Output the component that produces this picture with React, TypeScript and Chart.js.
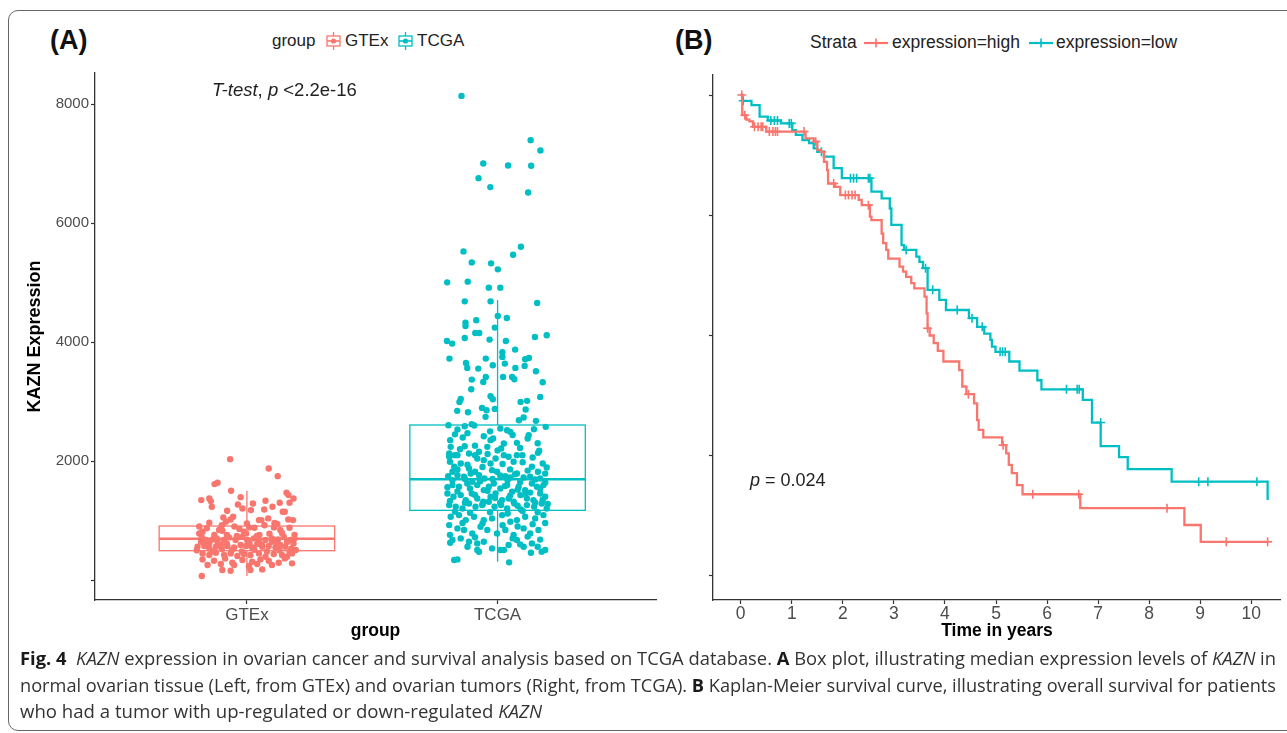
import React, { useEffect, useRef } from 'react';
import { Chart, registerables } from 'chart.js';
Chart.register(...registerables);

const FONT = "'Liberation Sans', Arial, Helvetica, sans-serif";

// ---------- Panel A: box plot ----------
const groups = ['GTEx', 'TCGA'];
const groupColors = ['#F8766D', '#00BFC4'];
const boxQ1 = [493, 1172];
const boxMedian = [695, 1694];
const boxQ3 = [908, 2607];
const whiskerLow = [67, 308];
const whiskerHigh = [1497, 4710];
const yTicksA = [0, 2000, 4000, 6000, 8000];
const yTickLabelsA = ['', '2000', '4000', '6000', '8000'];

// [jitter, value]
const gtexPoints: [number, number][] = [
  [-0.067, 2033], [0.087, 1876], [0.123, 1747], [-0.129, 1613], [-0.117, 1635], [-0.063, 1501], [-0.182, 1344],
  [-0.150, 1372], [-0.144, 1327], [-0.140, 1232], [-0.025, 1394], [-0.036, 1271], [-0.018, 1204], [0.024, 1288],
  [0.074, 1333], [0.102, 1232], [0.131, 1299], [0.158, 1467], [0.166, 1428], [0.170, 1299], [0.186, 1372],
  [-0.079, 1165], [0.016, 1176], [0.069, 1187], [0.143, 1148], [0.151, 1148], [-0.094, 1053], [-0.055, 1064],
  [0.048, 1008], [0.058, 1008], [0.085, 1036], [-0.150, 963], [-0.084, 980], [-0.065, 1019], [0.165, 1019],
  [0.184, 1008], [0.121, 941], [0.009, 885], [0.108, 885], [0.133, 840], [-0.177, 812], [-0.190, 784],
  [-0.111, 840], [-0.098, 829], [-0.012, 812], [-0.003, 784],
  [-0.183, 644], [-0.164, 672], [-0.137, 683], [-0.117, 644], [-0.091, 672], [-0.071, 717], [-0.045, 672],
  [-0.018, 728], [0.001, 672], [0.028, 700], [0.048, 644], [0.074, 672], [0.100, 644], [0.124, 683],
  [0.147, 728], [0.173, 672], [0.186, 616],
  [-0.197, 560], [-0.170, 571], [-0.150, 532], [-0.124, 560], [-0.104, 588], [-0.078, 571], [-0.051, 549],
  [-0.025, 588], [-0.003, 571], [0.021, 549], [0.041, 605], [0.061, 560], [0.087, 571], [0.114, 549],
  [0.133, 588], [0.153, 560], [0.177, 532], [0.195, 504],
  [-0.177, 448], [-0.150, 420], [-0.124, 459], [-0.091, 420], [-0.065, 448], [-0.038, 403], [-0.012, 437],
  [0.014, 420], [0.048, 448], [0.074, 392], [0.107, 437], [0.140, 420], [0.160, 392], [0.180, 448],
  [-0.177, 347], [-0.131, 325], [-0.087, 364], [-0.058, 291], [-0.018, 336], [0.021, 308], [0.054, 347],
  [0.087, 325], [0.127, 291], [0.151, 364],
  [-0.157, 252], [-0.104, 269], [-0.051, 252], [0.008, 235], [0.041, 269], [0.100, 252], [-0.098, 168],
  [-0.065, 157], [0.014, 168], [0.061, 179], [0.180, 280], [-0.180, 67],
  [-0.19, 900], [-0.16, 870], [-0.13, 760], [-0.10, 920], [-0.08, 760], [-0.05, 900], [-0.03, 860], [0.00, 950],
  [0.03, 880], [0.05, 760], [0.07, 920], [0.09, 780], [0.11, 960], [0.14, 790], [0.17, 880], [0.19, 760],
  [-0.18, 720], [-0.15, 620], [-0.12, 700], [-0.08, 610], [-0.04, 740], [0.01, 620], [0.04, 740], [0.06, 590],
  [0.10, 700], [0.12, 610], [0.16, 640], [0.19, 700], [-0.20, 500], [-0.14, 480], [-0.10, 520], [-0.06, 500],
  [-0.02, 480], [0.03, 510], [0.08, 480], [0.13, 500], [0.17, 470],
];

const tcgaPoints: [number, number][] = [
  [-0.144, 8142], [0.132, 7398], [0.171, 7224], [-0.057, 7006], [0.042, 6972], [0.134, 6966], [-0.076, 6759],
  [-0.029, 6608], [0.122, 6518], [0.093, 5606], [-0.136, 5527], [0.062, 5471], [-0.103, 5342], [-0.026, 5326],
  [0.001, 5225], [-0.201, 5006], [-0.119, 5018], [-0.035, 4917], [0.011, 4917], [-0.131, 4687], [-0.028, 4687],
  [0.158, 4659], [0.001, 4441], [0.037, 4407], [-0.085, 4368], [-0.128, 4329], [-0.128, 4273], [-0.011, 4245],
  [-0.202, 4021], [-0.181, 3976], [-0.131, 4071], [-0.089, 4155], [-0.073, 4155], [-0.032, 4043], [0.033, 4021],
  [0.149, 4088], [0.196, 4116], [-0.192, 3724], [-0.126, 3651], [-0.121, 3567], [-0.077, 3556], [-0.047, 3724],
  [-0.019, 3612], [0.019, 3830], [0.019, 3752], [0.029, 3640], [0.070, 3875], [0.071, 3567], [0.108, 3601],
  [0.110, 3713], [0.125, 3735], [0.153, 3511], [-0.103, 3371], [-0.057, 3332], [-0.047, 3416], [0.022, 3416],
  [0.058, 3416], [0.067, 3377], [0.180, 3326], [-0.105, 3209], [-0.147, 3046], [-0.152, 2996], [-0.028, 3091],
  [-0.019, 3041], [0.092, 2996], [0.118, 3013], [0.170, 3080], [-0.161, 2845], [-0.118, 2822], [-0.062, 2895],
  [-0.044, 2856], [-0.011, 2878], [-0.048, 2744], [0.112, 2867], [0.104, 2733], [0.085, 2688], [0.153, 2677],
  [-0.196, 2604], [-0.160, 2531], [-0.131, 2587], [-0.103, 2621], [-0.093, 2598], [0.011, 2548], [0.038, 2520],
  [0.051, 2492], [0.145, 2537], [0.192, 2576], [-0.189, 2352], [-0.139, 2397], [-0.187, 2240], [-0.131, 2251],
  [-0.055, 2419], [-0.028, 2352], [-0.018, 2380], [0.025, 2296], [0.077, 2307], [0.124, 2436], [0.166, 2173],
  [0.161, 2139], [-0.193, 2128], [-0.160, 2100], [-0.114, 2128], [-0.074, 2156], [-0.041, 2240], [0.014, 2212],
  [-0.193, 2072], [-0.171, 2100], [-0.147, 1960], [-0.114, 1876], [-0.090, 2100], [-0.081, 2044], [-0.055, 2016],
  [-0.028, 1960], [-0.008, 2044], [0.025, 2100], [0.044, 2072], [0.064, 1988], [0.077, 2100], [0.099, 2100],
  [0.137, 1904], [0.161, 1820], [0.196, 1893], [-0.180, 1820], [-0.160, 1764], [-0.134, 1736], [-0.107, 1792],
  [-0.074, 1764], [-0.052, 1708], [-0.022, 1848], [-0.002, 1820], [0.031, 1747], [0.051, 1725], [0.077, 1792],
  [0.104, 1725], [0.130, 1736], [0.170, 1708], [-0.197, 1747], [-0.173, 1904],
  [-0.180, 1596], [-0.154, 1568], [-0.121, 1624], [-0.101, 1652], [-0.081, 1596], [-0.055, 1512], [-0.035, 1568],
  [-0.015, 1624], [0.011, 1540], [0.038, 1596], [0.058, 1484], [0.084, 1568], [0.110, 1512], [0.137, 1624],
  [0.157, 1568], [0.183, 1596], [-0.200, 1456], [-0.176, 1400], [-0.147, 1428], [-0.127, 1344], [-0.103, 1456],
  [-0.081, 1372], [-0.057, 1316], [-0.028, 1400], [-0.008, 1456], [0.018, 1344], [0.044, 1372], [0.064, 1316],
  [0.091, 1428], [0.117, 1372], [0.143, 1344], [0.170, 1456], [0.190, 1400], [-0.193, 1260], [-0.167, 1232],
  [-0.140, 1204], [-0.114, 1288], [-0.088, 1232], [-0.061, 1260], [-0.035, 1316], [-0.012, 1232], [0.014, 1260],
  [0.038, 1204], [0.067, 1288], [0.093, 1187], [0.117, 1260], [0.146, 1232], [0.176, 1288], [0.196, 1204],
  [-0.187, 1064], [-0.154, 1092], [-0.127, 1008], [-0.094, 1064], [-0.055, 1008], [-0.022, 1036], [0.018, 1092],
  [0.051, 980], [0.077, 1008], [0.110, 1064], [0.150, 1036], [0.183, 1092], [-0.193, 924], [-0.160, 868],
  [-0.134, 840], [-0.101, 784], [-0.068, 896], [-0.041, 840], [-0.002, 784], [0.031, 840], [0.064, 756],
  [0.104, 868], [0.130, 784], [0.163, 840], [-0.180, 672], [-0.147, 700], [-0.114, 644], [-0.081, 616],
  [-0.055, 644], [-0.022, 532], [0.011, 504], [0.025, 504], [0.044, 588], [0.077, 672], [0.104, 560],
  [0.137, 616], [0.176, 476], [0.190, 504], [-0.189, 627], [-0.081, 504], [-0.074, 476], [0.133, 459],
  [-0.173, 336], [-0.160, 347], [0.046, 297],
  [-0.17, 2450], [-0.12, 2470], [-0.03, 2500], [0.06, 2440], [0.12, 2380], [0.16, 2300], [-0.15, 2200],
  [-0.09, 2260], [0.00, 2180], [0.09, 2220], [0.14, 2060], [-0.04, 2120], [-0.19, 1990], [-0.12, 1940],
  [-0.06, 1900], [0.02, 1950], [0.05, 1860], [0.10, 1980], [0.18, 1960], [-0.16, 1860], [-0.09, 1820],
  [0.01, 1760], [0.07, 1780], [0.12, 1840], [0.19, 1790], [-0.18, 1680], [-0.13, 1700], [-0.07, 1660],
  [-0.02, 1700], [0.04, 1680], [0.09, 1650], [0.15, 1690], [0.19, 1640], [-0.20, 1560], [-0.11, 1540],
  [-0.04, 1500], [0.03, 1580], [0.08, 1520], [0.13, 1470], [0.17, 1540], [-0.16, 1490], [-0.09, 1430],
  [-0.01, 1380], [0.05, 1420], [0.11, 1440], [0.18, 1350], [-0.19, 1330], [-0.13, 1300], [-0.06, 1280],
  [0.01, 1300], [0.08, 1250], [0.15, 1300], [0.20, 1280], [-0.17, 1150], [-0.11, 1130], [-0.03, 1140],
  [0.04, 1120], [0.10, 1160], [0.16, 1140], [-0.14, 960], [-0.06, 950], [0.02, 920], [0.08, 900], [0.14, 940],
  [0.19, 960], [-0.19, 760], [-0.09, 720], [0.06, 700], [0.12, 730], [0.17, 680], [-0.12, 560], [0.09, 600],
  [0.16, 560],
];

// ---------- Panel B: Kaplan-Meier ----------
const kmColors = ['#F8766D', '#00BFC4'];
const xTicksB = [0, 1, 2, 3, 4, 5, 6, 7, 8, 9, 10];
const yTicksB = [0, 0.25, 0.5, 0.75, 1];
// [time, survival after step]
const highSteps: [number, number][] = [
  [0, 1.0], [0.03, 0.958], [0.11, 0.949], [0.17, 0.945], [0.24, 0.934], [0.50, 0.924], [1.27, 0.910],
  [1.43, 0.903], [1.50, 0.886], [1.56, 0.882], [1.63, 0.861], [1.69, 0.844], [1.71, 0.816], [1.85, 0.809],
  [1.95, 0.792], [2.31, 0.782], [2.37, 0.771], [2.53, 0.747], [2.56, 0.740], [2.76, 0.712], [2.79, 0.692],
  [2.85, 0.678], [2.89, 0.660], [3.11, 0.643], [3.18, 0.633], [3.24, 0.622], [3.34, 0.609], [3.40, 0.598],
  [3.60, 0.581], [3.64, 0.546], [3.66, 0.515], [3.70, 0.500], [3.78, 0.484], [3.86, 0.468], [3.97, 0.446],
  [4.28, 0.428], [4.34, 0.394], [4.42, 0.378], [4.57, 0.359], [4.63, 0.324], [4.66, 0.304], [4.75, 0.288],
  [5.12, 0.272], [5.20, 0.255], [5.25, 0.231], [5.31, 0.214], [5.41, 0.189], [5.52, 0.170], [6.65, 0.141],
  [8.69, 0.106], [9.01, 0.071], [10.32, 0.071],
];
const highCensor: [number, number][] = [
  [0.02, 1.0], [0.08, 0.958], [0.27, 0.934], [0.34, 0.934], [0.40, 0.934], [0.43, 0.934], [0.56, 0.924],
  [0.63, 0.924], [0.68, 0.924], [0.72, 0.924], [1.24, 0.924], [1.47, 0.903], [1.82, 0.816], [2.05, 0.792],
  [2.11, 0.792], [2.18, 0.792], [2.24, 0.792], [2.50, 0.771], [3.66, 0.515], [4.46, 0.378], [5.14, 0.272],
  [5.72, 0.170], [6.62, 0.170], [8.35, 0.141], [9.51, 0.071], [10.32, 0.071],
];
const lowSteps: [number, number][] = [
  [0, 1.0], [0.03, 0.988], [0.21, 0.979], [0.37, 0.955], [0.53, 0.947], [0.79, 0.941], [1.01, 0.927],
  [1.08, 0.917], [1.21, 0.906], [1.34, 0.900], [1.43, 0.889], [1.50, 0.882], [1.63, 0.872], [1.82, 0.848],
  [1.98, 0.827], [2.56, 0.799], [2.76, 0.785], [2.92, 0.764], [2.95, 0.730], [3.15, 0.688], [3.20, 0.678],
  [3.44, 0.664], [3.50, 0.653], [3.57, 0.640], [3.66, 0.595], [3.89, 0.574], [4.02, 0.553], [4.47, 0.536],
  [4.63, 0.518], [4.77, 0.504], [4.89, 0.491], [4.92, 0.477], [4.99, 0.466], [5.26, 0.446], [5.46, 0.427],
  [5.81, 0.407], [5.89, 0.388], [6.70, 0.366], [6.88, 0.319], [7.05, 0.270], [7.41, 0.247], [7.58, 0.222],
  [8.44, 0.196], [10.32, 0.196], [10.32, 0.158],
];
const lowCensor: [number, number][] = [
  [0.05, 0.988], [0.59, 0.947], [0.66, 0.947], [0.72, 0.947], [0.95, 0.941], [0.99, 0.941], [1.58, 0.882],
  [2.15, 0.827], [2.21, 0.827], [2.27, 0.827], [2.50, 0.827], [2.53, 0.827], [3.24, 0.678], [3.62, 0.640],
  [3.76, 0.595], [4.24, 0.553], [4.53, 0.536], [4.73, 0.518], [5.08, 0.466], [5.13, 0.466], [5.18, 0.466],
  [6.38, 0.388], [6.59, 0.388], [6.63, 0.388], [7.05, 0.319], [8.97, 0.196], [9.15, 0.196], [10.11, 0.196],
];

const boxPlugin = {
  id: 'boxPlot',
  beforeDatasetsDraw(chart: any) {
    const { ctx } = chart;
    const x = chart.scales.x;
    const y = chart.scales.y;
    const half = 0.35;
    groups.forEach((_, i) => {
      const c = i + 1;
      const xl = x.getPixelForValue(c - half);
      const xr = x.getPixelForValue(c + half);
      const xc = x.getPixelForValue(c);
      const yq1 = y.getPixelForValue(boxQ1[i]);
      const yq3 = y.getPixelForValue(boxQ3[i]);
      const ym = y.getPixelForValue(boxMedian[i]);
      const ylo = y.getPixelForValue(whiskerLow[i]);
      const yhi = y.getPixelForValue(whiskerHigh[i]);
      ctx.save();
      ctx.strokeStyle = groupColors[i];
      ctx.lineWidth = 1.3;
      ctx.beginPath();
      ctx.moveTo(xc, yq3); ctx.lineTo(xc, yhi);
      ctx.moveTo(xc, yq1); ctx.lineTo(xc, ylo);
      ctx.stroke();
      ctx.strokeRect(xl, yq3, xr - xl, yq1 - yq3);
      ctx.lineWidth = 2.4;
      ctx.beginPath();
      ctx.moveTo(xl, ym); ctx.lineTo(xr, ym);
      ctx.stroke();
      ctx.restore();
    });
  },
};

function BoxChart() {
  const ref = useRef<HTMLCanvasElement>(null);
  useEffect(() => {
    const chart = new Chart(ref.current as HTMLCanvasElement, {
      type: 'scatter',
      data: {
        datasets: [gtexPoints, tcgaPoints].map((pts, i) => ({
          label: groups[i],
          data: pts.map(([j, v]) => ({ x: i + 1 + j, y: v })),
          backgroundColor: groupColors[i],
          borderWidth: 0,
          pointRadius: 3.2,
        })),
      },
      options: {
        animation: false,
        responsive: false,
        events: [],
        layout: { padding: { top: 13, left: 0, right: 0, bottom: 0 } },
        plugins: { legend: { display: false }, tooltip: { enabled: false } },
        scales: {
          x: {
            type: 'linear', min: 0.394, max: 2.632, bounds: 'data',
            border: { display: true, color: '#333', width: 1.3 },
            grid: { drawOnChartArea: false, drawTicks: true, tickLength: 4, tickColor: '#333', tickWidth: 1.2 },
            afterBuildTicks: (a: any) => { a.ticks = groups.map((_, i) => ({ value: i + 1 })); },
            afterFit: (a: any) => { a.height = 42; },
            ticks: {
              autoSkip: false, maxRotation: 0, padding: 1, color: '#4d4d4d',
              font: { family: FONT, size: 17 },
              callback: (v: any) => groups[Math.round(Number(v)) - 1] ?? '',
            },
            title: { display: true, text: 'group', color: '#000', font: { family: FONT, size: 17.5, weight: 'bold' }, padding: { top: 0, bottom: 0 } },
          },
          y: {
            type: 'linear', min: -336, max: 8527, bounds: 'data',
            border: { display: true, color: '#333', width: 1.3 },
            grid: { drawOnChartArea: false, drawTicks: true, tickLength: 4, tickColor: '#333', tickWidth: 1.2 },
            afterBuildTicks: (a: any) => { a.ticks = yTicksA.map((v) => ({ value: v })); },
            afterFit: (a: any) => { a.width = 75; },
            ticks: {
              autoSkip: false, padding: 2, color: '#4d4d4d',
              font: { family: FONT, size: 15 },
              callback: (_v: any, idx: number) => yTickLabelsA[idx],
            },
            title: { display: true, text: 'KAZN Expression', color: '#000', font: { family: FONT, size: 18, weight: 'bold' }, padding: { top: 4, bottom: 0 } },
          },
        },
      } as any,
      plugins: [boxPlugin],
    });
    return () => chart.destroy();
  }, []);
  return <canvas ref={ref} width={640} height={582} style={{ position: 'absolute', left: 20, top: 60 }} />;
}

function KMChart() {
  const ref = useRef<HTMLCanvasElement>(null);
  useEffect(() => {
    const steps = [highSteps, lowSteps];
    const cens = [highCensor, lowCensor];
    const datasets: any[] = [];
    [0, 1].forEach((i) => {
      datasets.push({
        data: steps[i].map(([t, s]) => ({ x: t, y: s })),
        showLine: true,
        stepped: 'before',
        borderColor: kmColors[i],
        borderWidth: 2.3,
        pointRadius: 0,
        borderJoinStyle: 'miter',
      });
      datasets.push({
        data: cens[i].map(([t, s]) => ({ x: t, y: s })),
        pointStyle: 'cross',
        pointRadius: 4.5,
        pointBorderWidth: 1.6,
        pointBorderColor: kmColors[i],
        borderColor: kmColors[i],
        backgroundColor: kmColors[i],
      });
    });
    const chart = new Chart(ref.current as HTMLCanvasElement, {
      type: 'scatter',
      data: { datasets },
      options: {
        animation: false,
        responsive: false,
        events: [],
        layout: { padding: { top: 15, left: 0, right: 0, bottom: 0 } },
        plugins: { legend: { display: false }, tooltip: { enabled: false } },
        scales: {
          x: {
            type: 'linear', min: -0.543, max: 10.58, bounds: 'data',
            border: { display: true, color: '#333', width: 1.3 },
            grid: { drawOnChartArea: false, drawTicks: true, tickLength: 4, tickColor: '#333', tickWidth: 1.2 },
            afterBuildTicks: (a: any) => { a.ticks = xTicksB.map((v) => ({ value: v })); },
            afterFit: (a: any) => { a.height = 42; },
            ticks: { autoSkip: false, maxRotation: 0, padding: 0, color: '#4d4d4d', font: { family: FONT, size: 17.5 } },
            title: { display: true, text: 'Time in years', color: '#000', font: { family: FONT, size: 17.5, weight: 'bold' }, padding: { top: 0, bottom: 0 } },
          },
          y: {
            type: 'linear', min: -0.0499, max: 1.0416, bounds: 'data',
            border: { display: true, color: '#333', width: 1.3 },
            grid: { drawOnChartArea: false, drawTicks: true, tickLength: 4, tickColor: '#333', tickWidth: 1.2 },
            afterBuildTicks: (a: any) => { a.ticks = yTicksB.map((v) => ({ value: v })); },
            afterFit: (a: any) => { a.width = 43; },
            ticks: { autoSkip: false, padding: 0, callback: () => '' },
          },
        },
      } as any,
    });
    return () => chart.destroy();
  }, []);
  return <canvas ref={ref} width={617} height={582} style={{ position: 'absolute', left: 670, top: 60 }} />;
}

function BoxKey({ color }: { color: string }) {
  return (
    <svg width={17} height={18} style={{ display: 'block' }}>
      <line x1={8.5} y1={0} x2={8.5} y2={18} stroke={color} strokeWidth={1.3} />
      <rect x={2} y={4} width={13} height={10} fill="#fff" stroke={color} strokeWidth={1.3} />
      <line x1={2} y1={9} x2={15} y2={9} stroke={color} strokeWidth={1.6} />
      <circle cx={8.5} cy={9} r={2.6} fill={color} />
    </svg>
  );
}

function LineKey({ color }: { color: string }) {
  return (
    <svg width={24} height={12} style={{ display: 'block' }}>
      <line x1={0} y1={6} x2={24} y2={6} stroke={color} strokeWidth={2.2} />
      <line x1={12} y1={1.5} x2={12} y2={10.5} stroke={color} strokeWidth={1.6} />
    </svg>
  );
}

const abs = (left: number, top: number, extra: any = {}) => ({ position: 'absolute' as const, left, top, fontFamily: FONT, lineHeight: 1, whiteSpace: 'nowrap' as const, ...extra });

export default function App() {
  return (
    <div style={{ position: 'absolute', left: 0, top: 0, width: 1287, height: 733, overflow: 'hidden', background: '#fff' }}>
      <div style={{ position: 'absolute', left: 8, top: 10, width: 1300, height: 719, border: '1.5px solid #666', borderRadius: 10 }} />
      <BoxChart />
      <KMChart />
      <div style={abs(50, 27, { fontSize: 27, fontWeight: 'bold', color: '#111' })}>(A)</div>
      <div style={abs(675, 27, { fontSize: 27, fontWeight: 'bold', color: '#111' })}>(B)</div>

      <div style={abs(272, 32, { fontSize: 17, color: '#222' })}>group</div>
      <div style={abs(325, 32)}><BoxKey color={groupColors[0]} /></div>
      <div style={abs(345, 32, { fontSize: 17, color: '#222' })}>GTEx</div>
      <div style={abs(397, 32)}><BoxKey color={groupColors[1]} /></div>
      <div style={abs(417, 32, { fontSize: 17, color: '#222' })}>TCGA</div>

      <div style={abs(212, 81, { fontSize: 18.5, color: '#222' })}><i>T-test</i>, <i>p</i> &lt;2.2e-16</div>

      <div style={abs(810, 34, { fontSize: 17.5, color: '#222' })}>Strata</div>
      <div style={abs(864, 37)}><LineKey color={kmColors[0]} /></div>
      <div style={abs(892, 34, { fontSize: 17.5, color: '#222' })}>expression=high</div>
      <div style={abs(1029, 37)}><LineKey color={kmColors[1]} /></div>
      <div style={abs(1056, 34, { fontSize: 17.5, color: '#222' })}>expression=low</div>

      <div style={abs(750, 471, { fontSize: 18, color: '#222' })}><i>p</i> = 0.024</div>

      <svg width={1287} height={93} style={{ position: 'absolute', left: 0, top: 640 }}>
        <g fill="#333" style={{ fontFamily: "'Open Sans', 'Noto Sans', sans-serif", fontSize: 17.5, whiteSpace: 'pre' }}>
          <text x={20} y={25} textLength={1256} lengthAdjust="spacingAndGlyphs" xmlSpace="preserve">
            <tspan fontWeight="bold" fill="#1a1a1a">Fig. 4</tspan>{'  '}<tspan fontStyle="italic">KAZN</tspan>{' expression in ovarian cancer and survival analysis based on TCGA database. '}<tspan fontWeight="bold" fill="#1a1a1a">A</tspan>{' Box plot, illustrating median expression levels of '}<tspan fontStyle="italic">KAZN</tspan>{' in'}
          </text>
          <text x={20} y={52} textLength={1256} lengthAdjust="spacingAndGlyphs" xmlSpace="preserve">
            {'normal ovarian tissue (Left, from GTEx) and ovarian tumors (Right, from TCGA). '}<tspan fontWeight="bold" fill="#1a1a1a">B</tspan>{' Kaplan-Meier survival curve, illustrating overall survival for patients'}
          </text>
          <text x={20} y={78} textLength={522} lengthAdjust="spacingAndGlyphs" xmlSpace="preserve">
            {'who had a tumor with up-regulated or down-regulated '}<tspan fontStyle="italic">KAZN</tspan>
          </text>
        </g>
      </svg>
    </div>
  );
}
